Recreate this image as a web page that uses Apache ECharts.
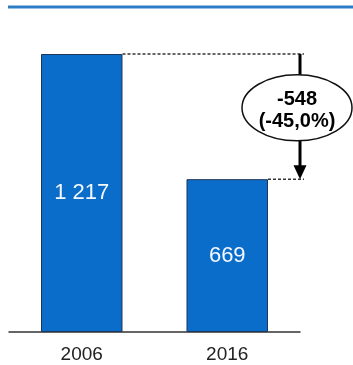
<!DOCTYPE html>
<html><head><meta charset="utf-8">
<script src="https://cdn.jsdelivr.net/npm/echarts@6/dist/echarts.min.js"></script>
<style>html,body{margin:0;padding:0;background:#fff}#c{width:353px;height:365px}</style>
</head><body><div id="c"></div>
<script>
var categories = ['2006', '2016'];
var values = [1217, 669];
var changeValue = ['-548'];
var changePct = ['(-45,0%)'];

var FONT = '"Liberation Sans", Arial, sans-serif';
var BAR_PCT = 0.56;

function fmt(v) { return String(v).replace(/\B(?=(\d{3})+(?!\d))/g, ' '); }

var chart = echarts.init(document.getElementById('c'));
chart.setOption({
  animation: false,
  backgroundColor: '#fff',
  graphic: [{ type: 'line', shape: { x1: 8, y1: 7, x2: 353, y2: 7 }, style: { stroke: '#2f7cc6', lineWidth: 3 } }],
  grid: { left: 9, right: 53, top: 54, bottom: 33 },
  xAxis: {
    type: 'category', data: categories,
    axisLine: { lineStyle: { color: '#333', width: 1.5 } },
    axisTick: { show: false },
    axisLabel: { color: '#222', fontSize: 19, fontFamily: FONT, margin: 13 }
  },
  yAxis: { type: 'value', min: 0, max: values[0], show: false, splitLine: { show: false } },
  series: [{
    type: 'bar', data: values, barWidth: (BAR_PCT * 100) + '%',
    itemStyle: { color: '#0b6dca', borderColor: '#1d3558', borderWidth: 1 },
    label: { show: true, position: 'inside', color: '#f4f8ff', fontSize: 22, fontFamily: FONT,
      formatter: function (p) { return fmt(p.value); } }
  }, {
    type: 'custom', clip: false, silent: true, data: [[0]],
    renderItem: function (params, api) {
      var p1 = api.coord([0, values[0]]);
      var p2 = api.coord([1, values[1]]);
      var bw = api.size([1, 0])[0];
      var r1 = p1[0] + bw * BAR_PCT / 2;
      var r2 = p2[0] + bw * BAR_PCT / 2;
      var ax = p2[0] + bw / 2;
      var y1 = p1[1], y2 = p2[1];
      var cy = y1 + 0.43 * (y2 - y1);
      var cx = ax - 3, rx = 55, ry = 33;
      var dash = { stroke: '#333', lineWidth: 1.5, lineDash: [3, 2] };
      var solid = { stroke: '#000', lineWidth: 3 };
      return {
        type: 'group', children: [
          { type: 'line', shape: { x1: r1, y1: y1, x2: ax + 4, y2: y1 }, style: dash },
          { type: 'line', shape: { x1: r2, y1: y2, x2: ax + 4, y2: y2 }, style: dash },
          { type: 'line', shape: { x1: ax, y1: y1, x2: ax, y2: cy - ry }, style: solid },
          { type: 'line', shape: { x1: ax, y1: cy + ry, x2: ax, y2: y2 - 12 }, style: solid },
          { type: 'polygon', shape: { points: [[ax - 6.5, y2 - 14], [ax + 6.5, y2 - 14], [ax, y2]] }, style: { fill: '#000' } },
          { type: 'ellipse', shape: { cx: cx, cy: cy, rx: rx, ry: ry }, style: { fill: '#fff', stroke: '#111', lineWidth: 1.5 } },
          { type: 'text', x: cx, y: cy - 8, style: { text: changeValue[0], fill: '#000', font: 'bold 20px ' + FONT, align: 'center', verticalAlign: 'middle' } },
          { type: 'text', x: cx, y: cy + 14, style: { text: changePct[0], fill: '#000', font: 'bold 20px ' + FONT, align: 'center', verticalAlign: 'middle' } }
        ]
      };
    }
  }]
});
</script></body></html>
